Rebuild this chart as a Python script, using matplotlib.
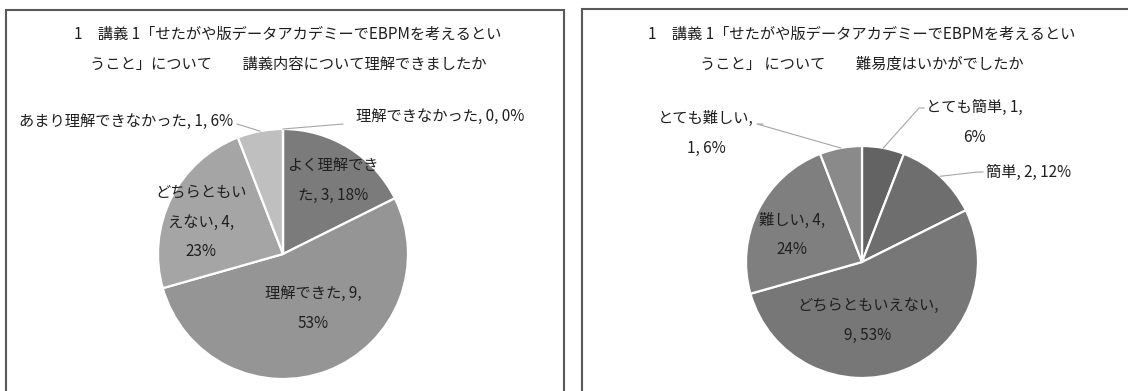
import math
import matplotlib
matplotlib.use('Agg')
import matplotlib.pyplot as plt
from matplotlib.patches import Rectangle

plt.rcParams['font.family'] = ['Noto Sans CJK JP', 'DejaVu Sans']

W, H = 1128, 391

# 講義内容の理解度
left_title = ['1　講義 1「せたがや版データアカデミーでEBPMを考えるとい',
              'うこと」について　　講義内容について理解できましたか']
left_cats = ['よく理解できた', '理解できた', 'どちらともいえない', 'あまり理解できなかった', '理解できなかった']
left_counts = [3, 9, 4, 1, 0]
left_pcts = [18, 53, 23, 6, 0]
left_colors = ['#7b7b7b', '#959595', '#a5a5a5', '#bfbfbf', '#d9d9d9']

# 難易度
right_title = ['1　講義 1「せたがや版データアカデミーでEBPMを考えるとい',
               'うこと」 について　　難易度はいかがでしたか']
right_cats = ['とても簡単', '簡単', 'どちらともいえない', '難しい', 'とても難しい']
right_counts = [1, 2, 9, 4, 1]
right_pcts = [6, 12, 53, 24, 6]
right_colors = ['#636363', '#6e6e6e', '#777777', '#7f7f7f', '#8a8a8a']

TEXT = '#1f1f1f'
LH = 30  # line height of labels (px)

# label layout: (line breaks, x, y of first line, ha, leader elbow)
left_layout = [
    ([6], 333, 165, 'center', None),
    ([9], 313, 293, 'center', None),
    ([6, 13], 201, 192, 'center', None),
    ([], 233, 121, 'right', [(237, 124)]),
    ([], 356, 116, 'left', [(343, 124)]),
]
right_layout = [
    ([9], 974, 107, 'center', [(924, 108), (919, 108)]),
    ([], 986, 172, 'left', [(983, 172), (978, 172)]),
    ([10], 868, 305, 'center', None),
    ([7], 792, 220, 'center', None),
    ([7], 706, 118, 'center', [(763, 124), (757, 124)]),
]


def split_label(s, breaks):
    parts, start = [], 0
    for b in breaks:
        parts.append(s[start:b].strip())
        start = b
    parts.append(s[start:].strip())
    return parts


def draw_panel(ax, title, cats, counts, pcts, colors, layout, cx, cy, r, tx):
    for i, line in enumerate(title):
        ax.text(tx, H - (34 + i * 30), line, ha='center', va='center',
                fontsize=11, color=TEXT)
    wedges, _ = ax.pie(counts, colors=colors, startangle=90, counterclock=False,
                       center=(cx, H - cy), radius=r,
                       wedgeprops=dict(edgecolor='white', linewidth=1.6))
    for w, cat, n, p, (breaks, x, y, ha, elbow) in zip(wedges, cats, counts, pcts, layout):
        lines = split_label(f'{cat}, {n}, {p}%', breaks)
        for i, line in enumerate(lines):
            ax.text(x, H - (y + i * LH), line, ha=ha, va='center',
                    fontsize=11, color=TEXT)
        if elbow:
            # leader from the middle of the wedge's arc to the label
            mid = math.radians((w.theta1 + w.theta2) / 2)
            px = cx + r * math.cos(mid)
            py = H - cy + r * math.sin(mid)
            xs = [px] + [e[0] for e in elbow[::-1]]
            ys = [py] + [H - e[1] for e in elbow[::-1]]
            ax.plot(xs, ys, color='#a6a6a6', lw=0.8)


fig = plt.figure(figsize=(W / 100, H / 100), dpi=100)
ax = fig.add_axes([0, 0, 1, 1])

draw_panel(ax, left_title, left_cats, left_counts, left_pcts, left_colors,
           left_layout, 283, 254, 125, 288)
draw_panel(ax, right_title, right_cats, right_counts, right_pcts, right_colors,
           right_layout, 862, 262, 116, 862)

# chart frames
ax.add_patch(Rectangle((6, -20), 558, H - 10 + 20, fill=False,
                       edgecolor='#595959', lw=1.5, clip_on=False))
ax.add_patch(Rectangle((582, -20), 600, H - 9 + 20, fill=False,
                       edgecolor='#595959', lw=1.5, clip_on=False))

ax.set_xlim(0, W)
ax.set_ylim(0, H)
ax.set_aspect('equal')
ax.axis('off')

fig.savefig('out.png', dpi=100)
